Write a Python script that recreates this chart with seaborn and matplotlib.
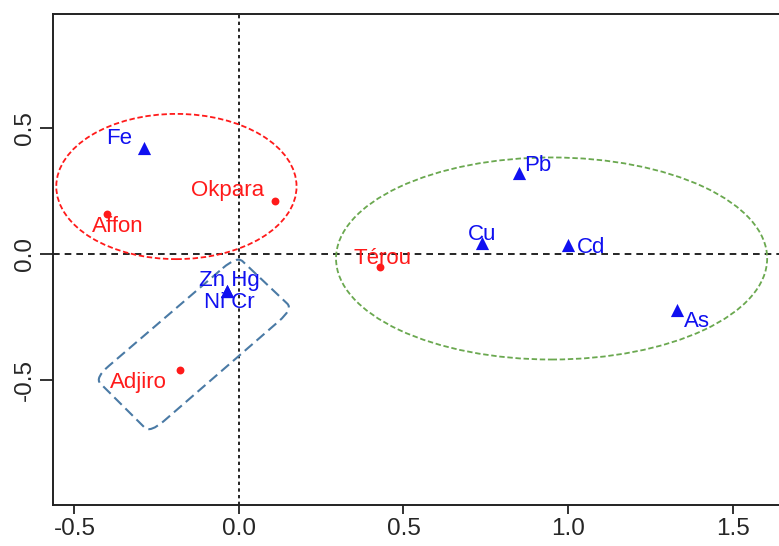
import numpy as np
import pandas as pd
import matplotlib
matplotlib.use('Agg')
import matplotlib.pyplot as plt
from matplotlib.patches import Ellipse, PathPatch
from matplotlib.path import Path
import seaborn as sns

# site scores (red dots)
sites = ['Affon', 'Okpara', 'Térou', 'Adjiro']
site_x = [-0.40, 0.11, 0.43, -0.18]
site_y = [0.16, 0.21, -0.05, -0.46]

# metal scores (blue triangles)
metals = ['Fe', 'Pb', 'Cu', 'Cd', 'As', 'Zn Hg', 'Ni Cr']
metal_x = [-0.29, 0.85, 0.74, 1.00, 1.33, -0.035, -0.035]
metal_y = [0.42, 0.32, 0.045, 0.035, -0.22, -0.145, -0.145]

# group outlines
red_ell = dict(center=(-0.19, 0.267), width=0.73, height=0.575)
green_ell = dict(center=(0.95, -0.018), width=1.31, height=0.80)
hull_x = [-0.006, 0.164, -0.27, -0.438]
hull_y = [-0.008, -0.218, -0.709, -0.491]

# label offsets in pixels (dx, dy)
lab_off = {'Affon': (10, -13), 'Okpara': (-48, 10), 'Térou': (2, 8), 'Adjiro': (-41, -12),
           'Fe': (-24, 9), 'Pb': (19, 8), 'Cu': (0, 8), 'Cd': (23, -2), 'As': (20, -12),
           'Zn Hg': (2, 10), 'Ni Cr': (2, -12)}

red = '#ff1a1a'
blue = '#1010f0'

sns.set_theme(style='ticks')
plt.rcParams['font.family'] = ['Liberation Sans', 'DejaVu Sans']


def rounded(xs, ys, frac=0.1):
    pts = np.column_stack([xs, ys])
    n = len(pts)
    verts, codes = [], []
    for i in range(n):
        p0, p1, p2 = pts[i - 1], pts[i], pts[(i + 1) % n]
        a = p1 + (p0 - p1) * frac
        b = p1 + (p2 - p1) * frac
        verts.append(a)
        codes.append(Path.MOVETO if i == 0 else Path.LINETO)
        verts += [p1, b]
        codes += [Path.CURVE3, Path.CURVE3]
    verts.append(verts[0])
    codes.append(Path.LINETO)
    return Path(verts, codes)


fig = plt.figure(figsize=(7.79, 5.46), dpi=100)
ax = fig.add_axes([53 / 779, 41 / 546, 726 / 779, 491 / 546])

ax.axhline(0, color='black', lw=1.2, ls=(0, (4, 3)), zorder=1)
ax.axvline(0, color='black', lw=1.2, ls=(0, (2, 2)), zorder=1)

ax.add_patch(Ellipse(red_ell['center'], red_ell['width'], red_ell['height'],
                     fill=False, ec=red, lw=1.3, ls=(0, (3, 1.5)), zorder=2))
ax.add_patch(Ellipse(green_ell['center'], green_ell['width'], green_ell['height'],
                     fill=False, ec='#6aa84f', lw=1.3, ls=(0, (3, 1.5)), zorder=2))
ax.add_patch(PathPatch(rounded(hull_x, hull_y), fill=False, ec='#4a7aa5', lw=1.5,
                       ls=(0, (5, 2.5)), zorder=2))

df_s = pd.DataFrame({'x': site_x, 'y': site_y, 'name': sites})
df_m = pd.DataFrame({'x': metal_x, 'y': metal_y, 'name': metals})
sns.scatterplot(data=df_s, x='x', y='y', color=red, marker='o', s=32, linewidth=0, ax=ax, zorder=3)
sns.scatterplot(data=df_m, x='x', y='y', color=blue, marker='^', s=90, linewidth=0, ax=ax, zorder=3)

for df, c in ((df_s, red), (df_m, blue)):
    for _, r in df.iterrows():
        dx, dy = lab_off[r['name']]
        ax.annotate(r['name'], (r['x'], r['y']), xytext=(dx, dy), textcoords='offset pixels',
                    ha='center', va='center', color=c, fontsize=16, zorder=4)

ax.set_xlim(-0.565, 1.641)
ax.set_ylim(-0.994, 0.95)
ax.set_xticks([-0.5, 0.0, 0.5, 1.0, 1.5])
ax.set_yticks([-0.5, 0.0, 0.5])
ax.set_xticklabels(['-0.5', '0.0', '0.5', '1.0', '1.5'])
ax.set_yticklabels(['-0.5', '0.0', '0.5'], rotation=90, va='center')
ax.set_xlabel('')
ax.set_ylabel('')
ax.tick_params(axis='x', length=6.5, width=1.3, labelsize=17.5, pad=3, color='#222222')
ax.tick_params(axis='y', length=9.5, width=1.3, labelsize=17.5, pad=3, color='#222222')
for s in ('left', 'bottom', 'top'):
    ax.spines[s].set_linewidth(1.4)
    ax.spines[s].set_color('#222222')
ax.spines['right'].set_visible(False)

fig.savefig('out.png', dpi=100)
